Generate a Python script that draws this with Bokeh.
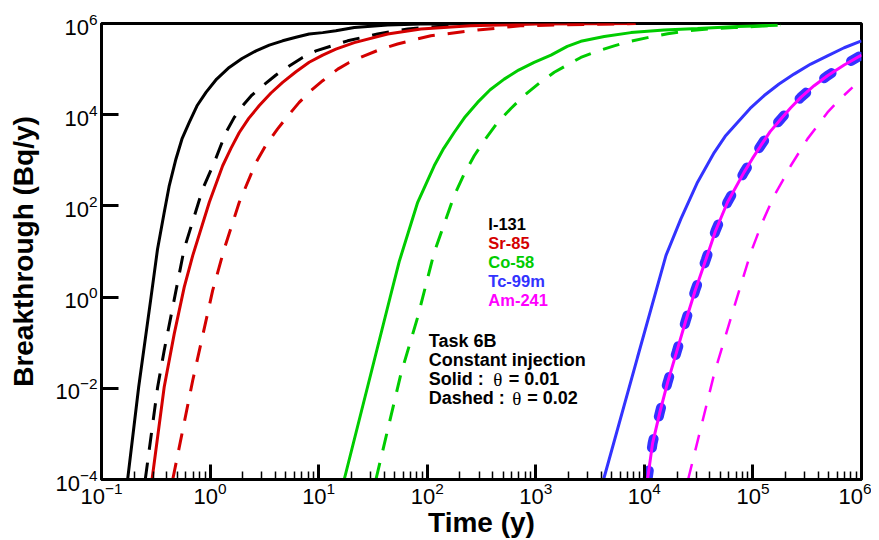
from bokeh.plotting import figure
from bokeh.models import FixedTicker, Label
from bokeh.embed import file_html
from bokeh.resources import INLINE

# ---------------- data ----------------
x_major = [1e-1, 1e0, 1e1, 1e2, 1e3, 1e4, 1e5, 1e6]
x_minor = [m * d for d in [1e-1, 1e0, 1e1, 1e2, 1e3, 1e4, 1e5] for m in [2, 3, 4, 5, 6, 7, 8, 9]]
y_major = [1e-4, 1e-2, 1e0, 1e2, 1e4, 1e6]

i131_solid_t = [0.174, 0.220, 0.286, 0.328, 0.378, 0.421, 0.485, 0.551, 0.643, 0.758, 0.917, 1.15, 1.50, 1.97,
                2.65, 3.51, 4.66, 6.18, 8.18, 10.9, 14.4, 21.3, 43.2, 87.5, 1000]
i131_solid_v = [1e-4, 0.0107, 1.0, 11.2, 72, 279, 1070, 2940, 6760, 15700, 30900, 60500, 108700, 171000,
                251000, 336000, 417000, 501000, 589000, 631000, 692000, 813000, 923000, 977000, 1e6]

i131_dash_t = [0.253, 0.329, 0.378, 0.578, 0.855, 1.094, 1.40, 1.67, 2.0, 2.43, 3.05, 4.05, 5.36, 7.12, 9.44,
               18.5, 34.9, 66.1, 200, 1000]
i131_dash_v = [1e-4, 0.0107, 0.0676, 11.5, 234, 902, 4070, 8730, 15850, 27000, 43150, 74100, 117500, 180000,
               251000, 417000, 589000, 759000, 933000, 1e6]

sr85_solid_t = [0.292, 0.378, 0.468, 0.578, 0.692, 0.984, 1.306, 1.557, 1.858, 2.27, 2.84, 3.64, 4.66, 6.18,
                8.18, 10.9, 14.4, 21.3, 43.2, 87.5, 251, 1000, 8300]
sr85_solid_v = [1e-4, 0.0107, 0.158, 1.65, 8.13, 120, 759, 1830, 4070, 8300, 15850, 29900, 51300, 87500,
                141000, 203000, 275000, 380000, 589000, 759000, 891000, 977000, 1e6]

sr85_dash_t = [0.453, 0.692, 1.057, 1.352, 1.858, 2.65, 3.27, 4.19, 5.29, 6.62, 8.49, 10.9, 15.0, 19.1, 26.3,
               37.5, 53.3, 75.9, 108, 251, 724, 8300]
sr85_dash_v = [1e-4, 0.0148, 1.40, 11.5, 120, 902, 2170, 4900, 9840, 18600, 33600, 55600, 100000, 140000,
               195000, 275000, 355000, 440000, 537000, 692000, 891000, 1e6]

co58_solid_t = [17.2, 32.5, 45.5, 55.2, 81.7, 116, 142, 177, 224, 291, 380, 512, 695, 966, 1380, 1950, 2600,
                4270, 7520, 15200, 30900, 72100, 169000]
co58_solid_v = [1e-4, 0.0407, 0.98, 6.0, 120, 759, 1830, 4070, 9040, 18600, 35300, 60300, 95300, 141000,
                203000, 316000, 407000, 519000, 631000, 716000, 776000, 859000, 912000]

co58_dash_t = [33.7, 57.3, 81.7, 116, 177, 219, 271, 347, 445, 590, 782, 1070, 1480, 1960, 2600, 3710, 5270,
               7520, 10700, 16400, 25100, 40900, 67100, 181000]
co58_dash_v = [1e-4, 0.0209, 0.363, 9.55, 168, 501, 1260, 3030, 6760, 13700, 26300, 48500, 85100, 124000,
               180000, 248000, 324000, 411000, 490000, 595000, 692000, 766000, 813000, 933000]

tc99m_solid_t = [4210, 8650, 15800, 21700, 30900, 44000, 55500, 72100, 94200, 127000, 174000, 239000, 341000,
                 486000, 692000, 1e6]
tc99m_solid_v = [1e-4, 0.0479, 8.13, 51.9, 331, 1480, 3350, 6760, 13700, 26300, 47000, 77600, 129000,
                 195000, 294000, 417000]

tc99m_dash_t = [10700, 11900, 13900, 16400, 19800, 24100, 29400, 36800, 45200, 58300, 83000, 99100, 118000,
                144000, 181000, 223000, 276000, 366000, 486000, 692000, 1e6]
tc99m_dash_v = [1e-4, 0.00062, 0.0030, 0.0137, 0.062, 0.307, 1.40, 6.56, 28.2, 120, 550, 1100, 2090,
                4250, 8040, 14200, 24000, 43200, 71600, 123000, 204000]

am241_solid_t = [10700, 11900, 13900, 16400, 19800, 24100, 29400, 36800, 45200, 58300, 83000, 99100, 118000,
                 144000, 181000, 223000, 276000, 366000, 486000, 692000, 1e6]
am241_solid_v = [1e-4, 0.00062, 0.0030, 0.0137, 0.062, 0.307, 1.40, 6.56, 28.2, 120, 550, 1100, 2090,
                 4250, 8040, 14200, 24000, 43200, 71600, 123000, 204000]

am241_dash_t = [25300, 44000, 67100, 95700, 122000, 157000, 188000, 223000, 318000, 394000, 486000, 635000, 826000]
am241_dash_v = [1e-4, 0.0209, 0.603, 9.55, 43.7, 168, 358, 759, 2950, 5750, 11200, 22100, 39800]

nuclides = ["I-131", "Sr-85", "Co-58", "Tc-99m", "Am-241"]
colors = ["#000000", "#d40000", "#00cc00", "#3333ff", "#ff00ff"]

notes = ["Task 6B", "Constant injection"]
theta_prefix = ["Solid  :", "Dashed :"]
theta_values = ["= 0.01", "= 0.02"]

FONT = "Liberation Sans"
SERIF = "Liberation Serif"

# ---------------- figure ----------------
p = figure(x_axis_type="log", y_axis_type="log",
           x_range=(1e-1, 1e6), y_range=(1e-4, 1e6),
           frame_width=760, frame_height=456,
           min_border_left=101, min_border_top=23, min_border_right=10, min_border_bottom=40,
           output_backend="svg", toolbar_location=None)
p.grid.visible = False
p.outline_line_color = "black"
p.outline_line_width = 3
p.outline_line_alpha = 1.0
p.background_fill_color = "white"
p.border_fill_color = "white"

xa = p.xaxis[0]
xa.ticker = FixedTicker(ticks=x_major, minor_ticks=x_minor)
xa.axis_line_width = 3
xa.major_tick_in = 15
xa.major_tick_out = 0
xa.major_tick_line_width = 3
xa.minor_tick_in = 8
xa.minor_tick_out = 0
xa.minor_tick_line_width = 1.5
xa.major_label_text_font = FONT
xa.major_label_text_font_size = "22px"
xa.major_label_text_color = "black"
xa.major_label_standoff = 2
xa.axis_label = "Time (y)"
xa.axis_label_text_font = FONT
xa.axis_label_text_font_style = "bold"
xa.axis_label_text_font_size = "28px"
xa.axis_label_text_color = "black"
xa.axis_label_standoff = 0

ya = p.yaxis[0]
ya.ticker = FixedTicker(ticks=y_major)
ya.axis_line_width = 3
ya.major_tick_in = 17
ya.major_tick_out = 0
ya.major_tick_line_width = 3
ya.minor_tick_line_color = None
ya.major_label_text_font = FONT
ya.major_label_text_font_size = "22px"
ya.major_label_text_color = "black"
ya.major_label_standoff = 4
ya.axis_label = "Breakthrough (Bq/y)"
ya.axis_label_text_font = FONT
ya.axis_label_text_font_style = "bold"
ya.axis_label_text_font_size = "28px"
ya.axis_label_text_color = "black"
ya.axis_label_standoff = 13

# ---------------- curves ----------------
SW = 3
DASH = "17 13"
p.line(i131_solid_t, i131_solid_v, line_color=colors[0], line_width=SW)
p.line(i131_dash_t, i131_dash_v, line_color=colors[0], line_width=SW, line_dash=DASH)
p.line(sr85_solid_t, sr85_solid_v, line_color=colors[1], line_width=SW)
p.line(sr85_dash_t, sr85_dash_v, line_color=colors[1], line_width=SW, line_dash=DASH)
p.line(co58_solid_t, co58_solid_v, line_color=colors[2], line_width=SW)
p.line(co58_dash_t, co58_dash_v, line_color=colors[2], line_width=SW, line_dash=DASH)
p.line(tc99m_solid_t, tc99m_solid_v, line_color=colors[3], line_width=SW)
p.line(tc99m_dash_t, tc99m_dash_v, line_color=colors[3], line_width=10, line_dash="9 23", line_cap="round")
p.line(am241_solid_t, am241_solid_v, line_color=colors[4], line_width=SW)
p.line(am241_dash_t, am241_dash_v, line_color=colors[4], line_width=2.5, line_dash="16 14")

# ---------------- legend texts ----------------
leg_x = 386.8
leg_y0 = 255.5
for i, (name, c) in enumerate(zip(nuclides, colors)):
    p.add_layout(Label(x=leg_x, y=leg_y0 - 19 * i, x_units="screen", y_units="screen",
                       text=name, text_color=c, text_font=FONT, text_font_style="bold",
                       text_font_size="16.5px", text_baseline="alphabetic", text_align="left"))

note_x = 327.3
note_y0 = 138.1
step = 18.9
for i, t in enumerate(notes):
    p.add_layout(Label(x=note_x, y=note_y0 - step * i, x_units="screen", y_units="screen",
                       text=t, text_color="black", text_font=FONT, text_font_style="bold",
                       text_font_size="18px", text_baseline="alphabetic", text_align="left"))

theta_x = [391.7, 410.7]
value_x = [407.3, 425.7]
for i in range(2):
    yy = note_y0 - step * (i + 2)
    p.add_layout(Label(x=note_x, y=yy, x_units="screen", y_units="screen",
                       text=theta_prefix[i], text_color="black", text_font=FONT, text_font_style="bold",
                       text_font_size="18px", text_baseline="alphabetic", text_align="left"))
    p.add_layout(Label(x=theta_x[i], y=yy, x_units="screen", y_units="screen",
                       text="\u03b8", text_color="black", text_font=SERIF, text_font_style="normal",
                       text_font_size="19px", text_baseline="alphabetic", text_align="left"))
    p.add_layout(Label(x=value_x[i], y=yy, x_units="screen", y_units="screen",
                       text=theta_values[i], text_color="black", text_font=FONT, text_font_style="bold",
                       text_font_size="18px", text_baseline="alphabetic", text_align="left"))

open("out.html", "w").write(file_html(p, INLINE))
